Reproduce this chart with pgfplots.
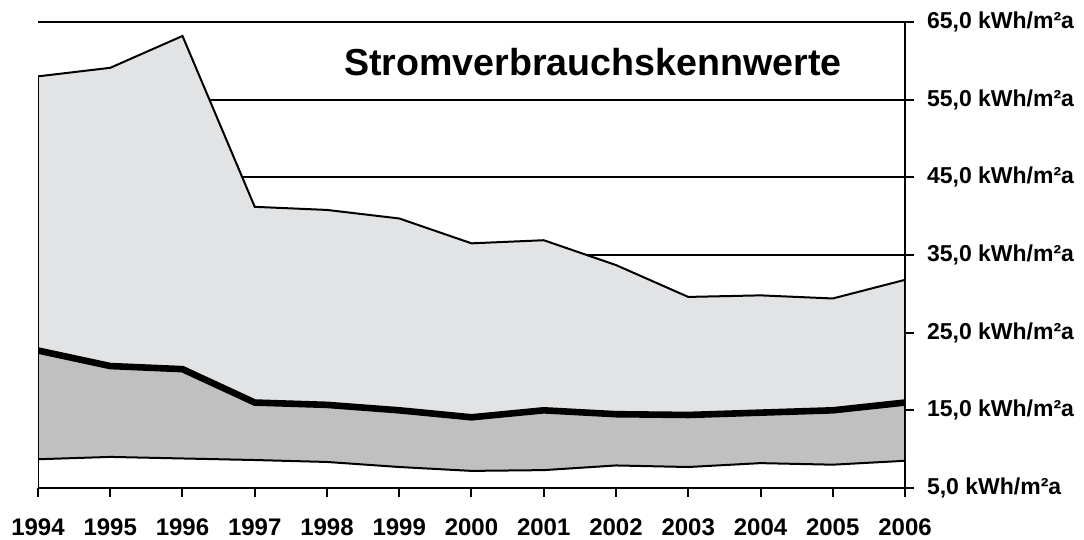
\documentclass[border=0pt]{standalone}
\usepackage{fontspec}
\setmainfont{Liberation Sans}
\usepackage{pgfplots}
\pgfplotsset{compat=1.18}
\usepgfplotslibrary{fillbetween}
\definecolor{marble}{RGB}{226,227,229}
\definecolor{midgray}{RGB}{192,192,192}

\begin{document}
\begin{tikzpicture}
\begin{axis}[
    scale only axis,
    width=433.5pt, height=233pt,
    xmin=1994, xmax=2006, ymin=5, ymax=65,
    axis x line=bottom, axis y line=right,
    axis line style={line width=1pt, -},
    xtick={1994,1995,...,2006},
    xticklabels={1994,1995,1996,1997,1998,1999,2000,2001,2002,2003,2004,2005,2006},
    ytick={5,15,...,65},
    yticklabels={{5,0 kWh/m²a},{15,0 kWh/m²a},{25,0 kWh/m²a},{35,0 kWh/m²a},{45,0 kWh/m²a},{55,0 kWh/m²a},{65,0 kWh/m²a}},
    ymajorgrids,
    grid style={black, line width=1pt},
    tick style={black, line width=1pt},
    tick align=outside,
    major tick length=4.5pt,
    ticklabel style={font=\bfseries\fontsize{11.5}{13}\selectfont},
    xticklabel style={yshift=-7.5pt, font=\bfseries\fontsize{12}{14}\selectfont},
    yticklabel style={xshift=3pt},
]
% lines
\addplot[name path=low, draw=none] coordinates {
    (1994,8.7) (1995,9.0) (1996,8.8) (1997,8.6) (1998,8.35) (1999,7.7) (2000,7.2)
    (2001,7.3) (2002,7.9) (2003,7.7) (2004,8.2) (2005,8.0) (2006,8.5)
};
\addplot[name path=mid, draw=none] coordinates {
    (1994,22.7) (1995,20.7) (1996,20.3) (1997,16.0) (1998,15.7) (1999,15.0) (2000,14.1)
    (2001,15.0) (2002,14.5) (2003,14.4) (2004,14.7) (2005,15.0) (2006,16.0)
};
\addplot[name path=top, draw=none] coordinates {
    (1994,58.0) (1995,59.1) (1996,63.2) (1997,41.2) (1998,40.8) (1999,39.7) (2000,36.5)
    (2001,36.9) (2002,33.7) (2003,29.6) (2004,29.8) (2005,29.4) (2006,31.8)
};
\addplot[midgray] fill between[of=mid and low];
\addplot[marble] fill between[of=top and mid];

\addplot[black, line width=1pt] coordinates {
    (1994,8.7) (1995,9.0) (1996,8.8) (1997,8.6) (1998,8.35) (1999,7.7) (2000,7.2)
    (2001,7.3) (2002,7.9) (2003,7.7) (2004,8.2) (2005,8.0) (2006,8.5)
};
\addplot[black, line width=1pt] coordinates {
    (1994,58.0) (1995,59.1) (1996,63.2) (1997,41.2) (1998,40.8) (1999,39.7) (2000,36.5)
    (2001,36.9) (2002,33.7) (2003,29.6) (2004,29.8) (2005,29.4) (2006,31.8)
};
\addplot[black, line width=3.3pt] coordinates {
    (1994,22.7) (1995,20.7) (1996,20.3) (1997,16.0) (1998,15.7) (1999,15.0) (2000,14.1)
    (2001,15.0) (2002,14.5) (2003,14.4) (2004,14.7) (2005,15.0) (2006,16.0)
};
% left edge of the areas and right axis line
\addplot[black, line width=1pt] coordinates {(1994,5) (1994,58.0)};
\addplot[black, line width=1pt] coordinates {(2006,5) (2006,65)};

\node[font=\bfseries\fontsize{18.8}{22}\selectfont] at (axis cs:2001.68,59.85) {Stromverbrauchskennwerte};
\end{axis}
\pgfresetboundingbox
\path (current axis.south west) ++(-19pt,-26pt) rectangle ([xshift=89.5pt,yshift=11pt]current axis.north east);
\end{tikzpicture}
\end{document}
